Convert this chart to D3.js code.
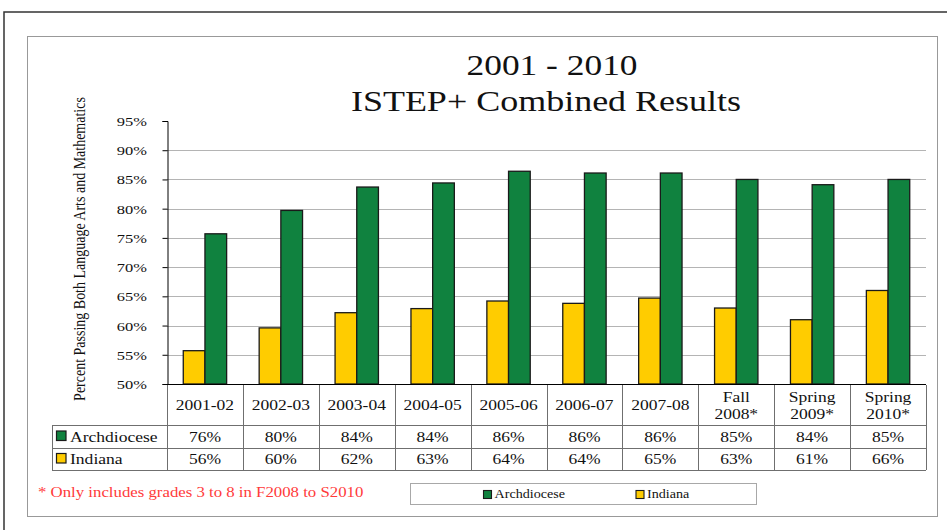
<!DOCTYPE html>
<html>
<head>
<meta charset="utf-8">
<script src="https://cdn.jsdelivr.net/npm/d3@7"></script>
<style>
  body { margin: 0; background: #fff; }
  text { font-family: "Liberation Serif", "Times New Roman", serif; fill: #111; }
</style>
</head>
<body>
<script>
// chart values
var categories = ["2001-02", "2002-03", "2003-04", "2004-05", "2005-06", "2006-07", "2007-08", "Fall 2008*", "Spring 2009*", "Spring 2010*"];
var categoryLines = [["2001-02"], ["2002-03"], ["2003-04"], ["2004-05"], ["2005-06"], ["2006-07"], ["2007-08"], ["Fall", "2008*"], ["Spring", "2009*"], ["Spring", "2010*"]];
var archdiocese = [75.7, 79.7, 83.7, 84.4, 86.4, 86.1, 86.1, 85.0, 84.1, 85.0];
var indiana = [55.7, 59.6, 62.2, 62.9, 64.2, 63.8, 64.7, 63.0, 61.0, 66.0];
var seriesNames = ["Indiana", "Archdiocese"];
var yTicks = [50, 55, 60, 65, 70, 75, 80, 85, 90, 95];

var width = 947, height = 530;
var green = "#10823f", yellow = "#ffcc00";

var svg = d3.select("body").append("svg")
    .attr("width", width)
    .attr("height", height);

// text is a bit wider than normal in the picture, so stretch it horizontally
function label(g, x, y, str, size, sx, anchor, color) {
  return g.append("text")
    .attr("transform", "translate(" + x + "," + y + ") scale(" + sx + ",1)")
    .attr("text-anchor", anchor || "start")
    .style("font-size", size + "px")
    .style("fill", color || "#111")
    .text(str);
}

// frames
svg.append("rect").attr("x", 4).attr("y", 12).attr("width", 960).attr("height", 540)
  .attr("fill", "none").attr("stroke", "#333").attr("stroke-width", 1.5);
svg.append("rect").attr("x", 27.5).attr("y", 36.5).attr("width", 910).attr("height", 480)
  .attr("fill", "none").attr("stroke", "#999").attr("stroke-width", 1);

// title
label(svg, 552, 75, "2001 - 2010", 30, 1.18, "middle");
label(svg, 546, 111, "ISTEP+ Combined Results", 30, 1.2, "middle");

// scales
var x = d3.scaleBand().domain(categories).range([167, 926]).padding(0);
var bw = x.bandwidth() / 3.5;
var xSub = d3.scaleBand().domain(seriesNames).range([bw * 0.75, bw * 2.75]);
var y = d3.scaleLinear().domain([50, 95]).range([384, 121]);

// gridlines
svg.append("g").selectAll("line")
  .data(yTicks.filter(function(d){ return d > 50 && d < 95; }))
  .enter().append("line")
  .attr("x1", 167).attr("x2", 926)
  .attr("y1", function(d){ return Math.round(y(d)) + 0.5; })
  .attr("y2", function(d){ return Math.round(y(d)) + 0.5; })
  .attr("stroke", "#b4b4b4").attr("stroke-width", 1.2);

// y axis
var yAxis = d3.axisLeft(y).tickValues(yTicks).tickSize(5).tickFormat("");
var yg = svg.append("g").attr("transform", "translate(167.5,0)").call(yAxis);
yg.select(".domain").attr("stroke", "#000");
yg.selectAll(".tick line").attr("stroke", "#000");

yTicks.forEach(function(t) {
  label(svg, 147, y(t) + 5, t + "%", 13.5, 1.22, "end");
});

// y axis title
svg.append("text")
  .attr("transform", "translate(85,249) rotate(-90) scale(1,1.18)")
  .attr("text-anchor", "middle")
  .style("font-size", "14px")
  .text("Percent Passing Both Language Arts and Mathematics");

// bars
var rows = categories.map(function(c, i) {
  return { cat: c, values: [{ name: "Indiana", v: indiana[i] }, { name: "Archdiocese", v: archdiocese[i] }] };
});
var colorScale = d3.scaleOrdinal().domain(seriesNames).range([yellow, green]);

var groups = svg.append("g").selectAll("g")
  .data(rows).enter().append("g")
  .attr("transform", function(d){ return "translate(" + x(d.cat) + ",0)"; });

groups.selectAll("rect")
  .data(function(d){ return d.values; })
  .enter().append("rect")
  .attr("x", function(d){ return xSub(d.name); })
  .attr("width", xSub.bandwidth())
  .attr("y", function(d){ return y(d.v); })
  .attr("height", function(d){ return y(50) - y(d.v); })
  .attr("fill", function(d){ return colorScale(d.name); })
  .attr("stroke", "#1a1a1a").attr("stroke-width", 1.3);

// x axis line
svg.append("line").attr("x1", 167).attr("x2", 926).attr("y1", 384.5).attr("y2", 384.5)
  .attr("stroke", "#000").attr("stroke-width", 1.2);

// data table
var table = svg.append("g");
var lineColor = "#6f6f6f";
var bounds = categories.map(function(c){ return x(c); }).concat([926]);
table.selectAll("line.v").data(bounds).enter().append("line")
  .attr("x1", function(d){ return Math.round(d) + 0.5; })
  .attr("x2", function(d){ return Math.round(d) + 0.5; })
  .attr("y1", 385).attr("y2", 470)
  .attr("stroke", lineColor);
[425, 448, 470].forEach(function(yy) {
  table.append("line").attr("x1", 52).attr("x2", 926).attr("y1", yy + 0.5).attr("y2", yy + 0.5).attr("stroke", lineColor);
});
table.append("line").attr("x1", 52.5).attr("x2", 52.5).attr("y1", 425).attr("y2", 470).attr("stroke", lineColor);

categoryLines.forEach(function(lines, i) {
  var cx = x(categories[i]) + x.bandwidth() / 2;
  if (lines.length === 1) {
    label(table, cx, 410, lines[0], 15.5, 1.13, "middle");
  } else {
    label(table, cx, 401.5, lines[0], 15.5, 1.13, "middle");
    label(table, cx, 418.5, lines[1], 15.5, 1.13, "middle");
  }
  label(table, cx, 441.5, Math.round(archdiocese[i]) + "%", 15.5, 1.13, "middle");
  label(table, cx, 464, Math.round(indiana[i]) + "%", 15.5, 1.13, "middle");
});

// row keys
[["Archdiocese", green, 431, 441.5], ["Indiana", yellow, 453.5, 464]].forEach(function(r) {
  table.append("rect").attr("x", 56.5).attr("y", r[2]).attr("width", 9.5).attr("height", 9.5)
    .attr("fill", r[1]).attr("stroke", "#1a1a1a").attr("stroke-width", 1.2);
  label(table, 70, r[3], r[0], 15, 1.17, "start");
});

// footnote
label(svg, 38, 496.5, "* Only includes grades 3 to 8 in F2008 to S2010", 15, 1.12, "start", "#ff3a3a");

// legend
var legend = svg.append("g");
legend.append("rect").attr("x", 410.5).attr("y", 483.5).attr("width", 346).attr("height", 21)
  .attr("fill", "#fff").attr("stroke", "#a8a8a8");
[["Archdiocese", green, 483.5], ["Indiana", yellow, 636]].forEach(function(it) {
  legend.append("rect").attr("x", it[2]).attr("y", 490.5).attr("width", 8).attr("height", 8)
    .attr("fill", it[1]).attr("stroke", "#1a1a1a").attr("stroke-width", 1.1);
  label(legend, it[2] + 11, 498, it[0], 12.5, 1.13, "start");
});
</script>
</body>
</html>
